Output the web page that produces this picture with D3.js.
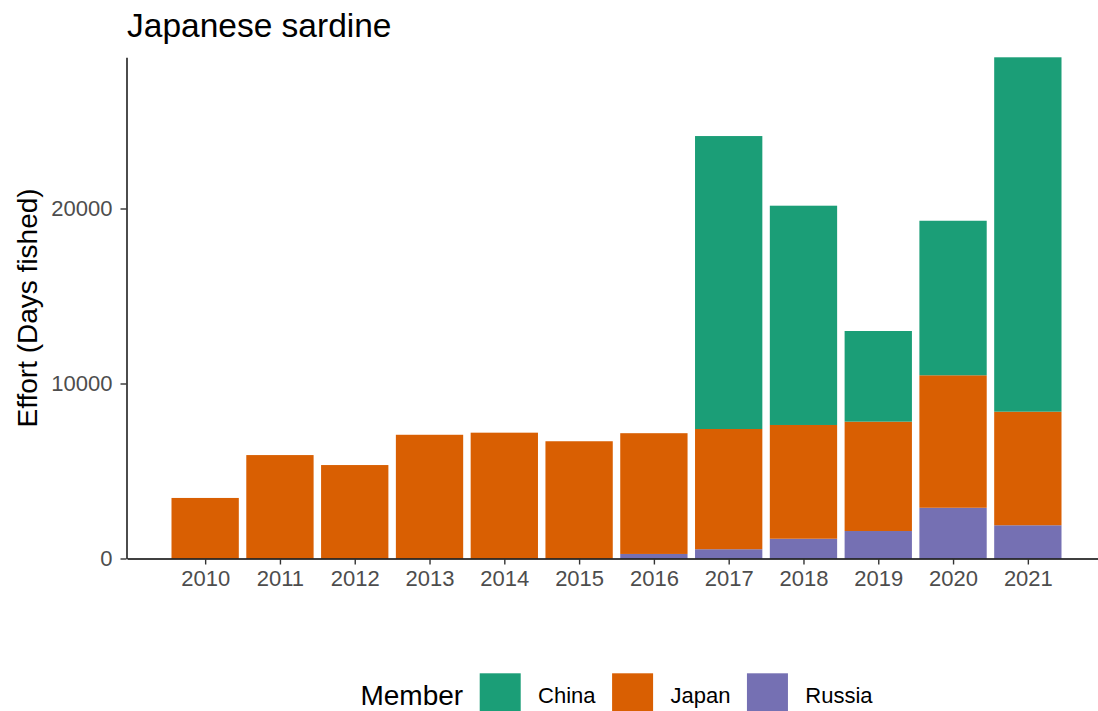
<!DOCTYPE html>
<html>
<head>
<meta charset="utf-8">
<script src="https://cdn.jsdelivr.net/npm/d3@7"></script>
<style>
  html, body { margin: 0; padding: 0; background: #fff; }
  svg { display: block; font-family: "Liberation Sans", Arial, sans-serif; }
</style>
</head>
<body>
<svg id="chart" width="1098" height="711"></svg>
<script>
const years = [2010, 2011, 2012, 2013, 2014, 2015, 2016, 2017, 2018, 2019, 2020, 2021];
const china = [0, 0, 0, 0, 0, 0, 0, 16740, 12530, 5180, 8830, 20250];
const japan = [3460, 5910, 5340, 7070, 7190, 6700, 6900, 6870, 6500, 6250, 7570, 6490];
const russia = [0, 0, 0, 0, 0, 0, 260, 530, 1130, 1570, 2900, 1900];
const members = ["China", "Japan", "Russia"];
const colors = ["#1B9E77", "#D95F02", "#7570B3"];
const yTicks = [0, 10000, 20000];
const titleText = "Japanese sardine";
const yTitle = "Effort (Days fished)";
const legendTitle = "Member";

const rows = years.map((y, i) => ({ year: y, China: china[i], Japan: japan[i], Russia: russia[i] }));
const stack = d3.stack().keys(["Russia", "Japan", "China"]);
const series = stack(rows);
const color = d3.scaleOrdinal().domain(members).range(colors);

const svg = d3.select("#chart");
const panel = { left: 127, right: 1106, top: 57.3, bottom: 558.5 };

const barHalf = 0.45;
const xmin = d3.min(years) - barHalf, xmax = d3.max(years) + barHalf;
const xpad = (xmax - xmin) * 0.05;
const x = d3.scaleLinear().domain([xmin - xpad, xmax + xpad]).range([panel.left, panel.right]);
const ymax = d3.max(series[series.length - 1], d => d[1]);
const y = d3.scaleLinear().domain([0, ymax]).range([panel.bottom, panel.top]);

// bars
svg.append("g").selectAll("g").data(series).join("g")
  .attr("fill", d => color(d.key))
  .selectAll("rect").data(d => d.filter(s => s[1] - s[0] > 0)).join("rect")
  .attr("x", d => x(d.data.year - barHalf))
  .attr("width", d => x(d.data.year + barHalf) - x(d.data.year - barHalf))
  .attr("y", d => y(d[1]))
  .attr("height", d => y(d[0]) - y(d[1]));

// x axis
const xAxis = d3.axisBottom(x).tickValues(years).tickFormat(d3.format("d")).tickSizeInner(6).tickSizeOuter(0).tickPadding(6);
const gx = svg.append("g").attr("transform", `translate(0,${panel.bottom})`).call(xAxis);
gx.select(".domain").attr("stroke", "#000").attr("stroke-width", 1.4);
gx.selectAll(".tick line").attr("stroke", "#333").attr("stroke-width", 1.4);
gx.selectAll(".tick text").attr("fill", "#4D4D4D").attr("font-size", 22).attr("dy", "0.71em");

// y axis
const yAxis = d3.axisLeft(y).tickValues(yTicks).tickFormat(d3.format("d")).tickSizeInner(6).tickSizeOuter(0).tickPadding(8);
const gy = svg.append("g").attr("transform", `translate(${panel.left - 0.5},0)`).call(yAxis);
gy.select(".domain").attr("stroke", "#000").attr("stroke-width", 1.4);
gy.selectAll(".tick line").attr("stroke", "#333").attr("stroke-width", 1.4);
gy.selectAll(".tick text").attr("fill", "#4D4D4D").attr("font-size", 22);
gy.attr("font-family", null); gx.attr("font-family", null);

// title
svg.append("text").attr("x", 127).attr("y", 37).attr("font-size", 33.5).attr("fill", "#000").text(titleText);

// y title
svg.append("text")
  .attr("transform", `translate(37,${(panel.top + panel.bottom) / 2}) rotate(-90)`)
  .attr("text-anchor", "middle").attr("font-size", 28).attr("fill", "#000").text(yTitle);

// legend
const lg = svg.append("g");
let lx = 0;
const lt = lg.append("text").attr("x", lx).attr("y", 705).attr("font-size", 28).attr("fill", "#000").text(legendTitle);
lx += lt.node().getComputedTextLength() + 16.6;
members.forEach((m, i) => {
  lg.append("rect").attr("x", lx).attr("y", 673.3).attr("width", 41).attr("height", 41).attr("fill", color(m));
  lx += 41 + 17.4;
  const t = lg.append("text").attr("x", lx).attr("y", 703).attr("font-size", 22).attr("fill", "#000").text(m);
  lx += t.node().getComputedTextLength() + (i < members.length - 1 ? 16.5 : 0);
});
const center = (panel.left + panel.right) / 2;
lg.attr("transform", `translate(${center - lx / 2},0)`);
</script>
</body>
</html>
